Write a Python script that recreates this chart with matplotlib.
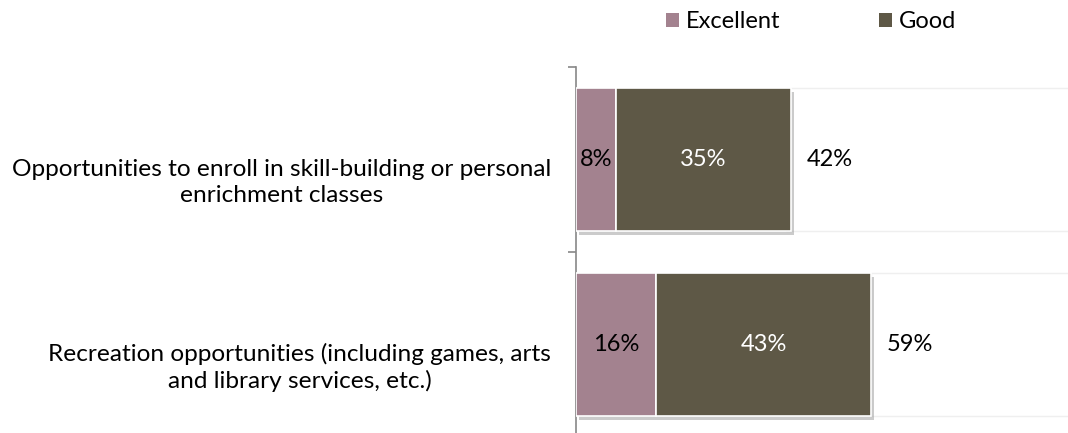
import matplotlib
matplotlib.use("Agg")
import matplotlib.pyplot as plt
import matplotlib.patheffects as pe
from matplotlib.patches import Patch

plt.rcParams["font.family"] = ["Lato", "DejaVu Sans"]

# Survey ratings (percent of respondents)
categories = [
    "Opportunities to enroll in skill-building or personal\nenrichment classes",
    "Recreation opportunities (including games, arts\nand library services, etc.)",
]
excellent = [8, 16]
good = [35, 43]
totals = [42, 59]

col_exc = "#A3828F"
col_good = "#5E5846"

fig = plt.figure(figsize=(10.68, 4.33), dpi=100)
ax = fig.add_axes([576 / 1068, -4 / 433, (1068 - 576) / 1068, 370 / 433])

ypos = list(range(len(categories)))
h = 0.77
shadow = [pe.SimplePatchShadow(offset=(2, -3), shadow_rgbFace="#999999", alpha=0.5), pe.Normal()]

# remaining share drawn as a white bar behind the label of the total
rest = [100 - t for t in totals]
ax.barh(ypos, rest, left=totals, height=h, color="white", edgecolor="#efefef", linewidth=1, zorder=1)
ax.barh(ypos, excellent, height=h, color=col_exc, edgecolor="white", linewidth=1.2,
        zorder=3, path_effects=shadow)
ax.barh(ypos, good, left=excellent, height=h, color=col_good, edgecolor="white", linewidth=1.2,
        zorder=3, path_effects=shadow)

fs = 17
for y, e, g, t in zip(ypos, excellent, good, totals):
    ax.text(e / 2, y, f"{e}%", ha="center", va="center", fontsize=fs, color="black", zorder=4)
    ax.text(e + g / 2, y, f"{g}%", ha="center", va="center", fontsize=fs, color="white", zorder=4)
    ax.text(e + g + 3.2, y, f"{t}%", ha="left", va="center", fontsize=fs, color="black", zorder=4)

# category labels sit a little below the bar centres
for y, label in zip(ypos, categories):
    ax.annotate(label, xy=(0, y), xycoords=("axes fraction", "data"),
                xytext=(-18, -16.5), textcoords="offset points",
                ha="right", va="center", multialignment="center",
                fontsize=17.6, linespacing=1.27, annotation_clip=False)

ax.set_xlim(0, 98.4)
ax.set_ylim(len(categories) - 0.5, -0.5)
ax.set_xticks([])
ax.set_yticks([-0.5, 0.5, 1.5])
ax.set_yticklabels([])
ax.tick_params(axis="y", length=6, color="#888888", width=1.2)
for s in ["top", "right", "bottom"]:
    ax.spines[s].set_visible(False)
ax.spines["left"].set_color("#888888")
ax.spines["left"].set_linewidth(1.2)

handles = [Patch(facecolor=col_exc, label="Excellent"), Patch(facecolor=col_good, label="Good")]
fig.legend(handles=handles, loc="center", bbox_to_anchor=(811 / 1068, 1 - 22 / 433), ncol=2,
           frameon=False, fontsize=fs, handlelength=0.55, handleheight=0.55, handletextpad=0.3,
           columnspacing=4.15)

fig.savefig("out.png", dpi=100)
